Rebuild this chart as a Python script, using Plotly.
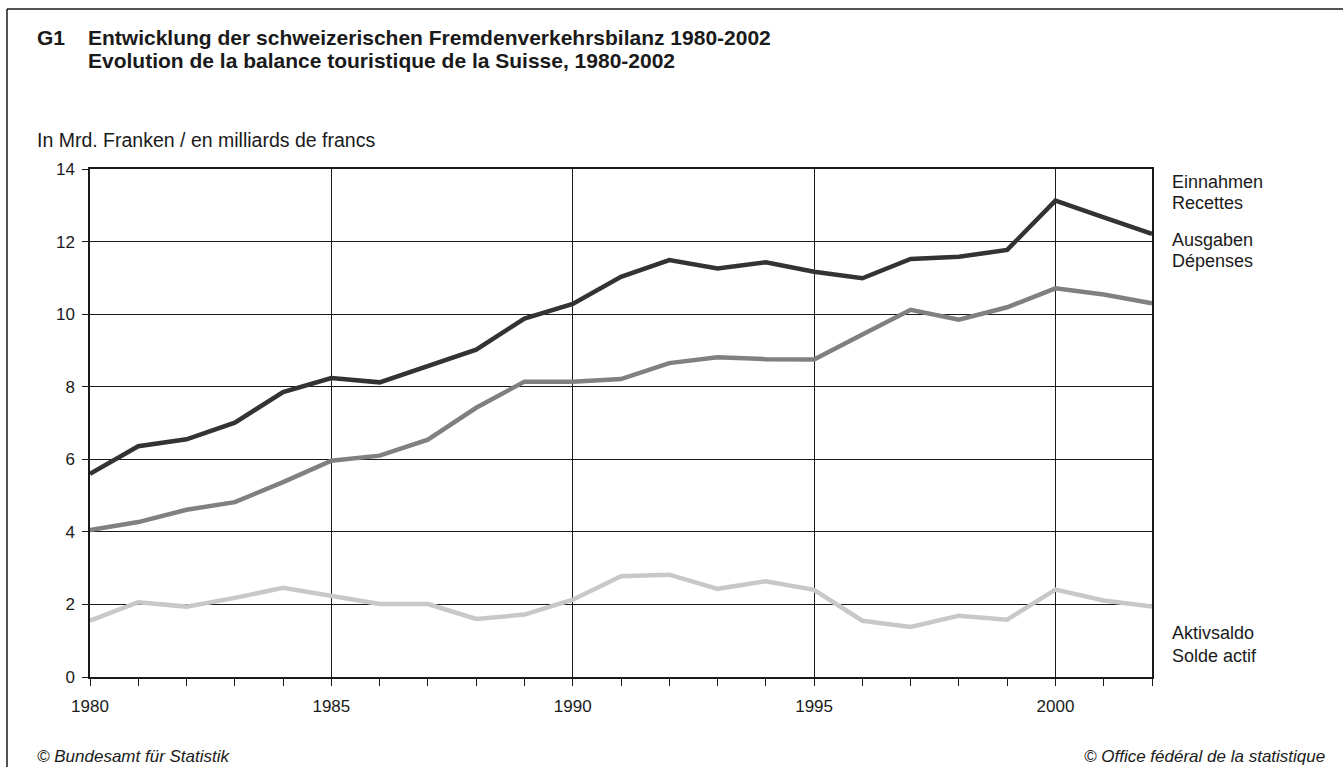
import plotly.graph_objects as go

years = list(range(1980, 2003))
einnahmen = [5.60, 6.36, 6.55, 7.01, 7.85, 8.24, 8.12, 8.56, 9.02, 9.88, 10.28,
             11.03, 11.49, 11.26, 11.43, 11.17, 10.99, 11.52, 11.58, 11.77, 13.13, 12.67, 12.21]
ausgaben = [4.05, 4.27, 4.61, 4.82, 5.37, 5.96, 6.10, 6.54, 7.42, 8.14, 8.14,
            8.21, 8.65, 8.81, 8.76, 8.75, 9.44, 10.12, 9.85, 10.19, 10.71, 10.54, 10.30]
aktivsaldo = [1.55, 2.06, 1.94, 2.18, 2.46, 2.25, 2.01, 2.01, 1.60, 1.72, 2.13,
              2.78, 2.82, 2.43, 2.64, 2.40, 1.55, 1.38, 1.69, 1.58, 2.41, 2.11, 1.94]
x_ticks = [1980, 1985, 1990, 1995, 2000]
y_ticks = [0, 2, 4, 6, 8, 10, 12, 14]

FONT = "Liberation Sans, Arial, sans-serif"
INK = "#1a1a1a"

fig = go.Figure()
fig.add_trace(go.Scatter(x=years, y=aktivsaldo, mode="lines",
                         line=dict(color="#c8c8c8", width=4.5), name="Aktivsaldo"))
fig.add_trace(go.Scatter(x=years, y=ausgaben, mode="lines",
                         line=dict(color="#808080", width=4.5), name="Ausgaben"))
fig.add_trace(go.Scatter(x=years, y=einnahmen, mode="lines",
                         line=dict(color="#333333", width=4.5), name="Einnahmen"))

L, R, T, B = 90, 191, 169, 90
W, H = 1343, 767
pw, ph = W - L - R, H - T - B

def px(x):
    return (x - L) / pw

def py(y):
    return (H - B - y) / ph

annotations = []
def txt(text, x, y, size, xanchor="left", yanchor="middle", bold=False, italic=False):
    t = text
    if bold:
        t = "<b>" + t + "</b>"
    if italic:
        t = "<i>" + t + "</i>"
    annotations.append(dict(text=t, x=px(x), y=py(y), xref="paper", yref="paper",
                            xanchor=xanchor, yanchor=yanchor, showarrow=False,
                            font=dict(family=FONT, size=size, color=INK)))

txt("G1", 35, 37, 21, bold=True)
txt("Entwicklung der schweizerischen Fremdenverkehrsbilanz 1980-2002", 86, 37, 21, bold=True)
txt("Evolution de la balance touristique de la Suisse, 1980-2002", 86, 61, 21, bold=True)
txt("In Mrd. Franken / en milliards de francs", 35, 140, 19.5)
txt("Einnahmen", 1170, 182, 18)
txt("Recettes", 1170, 203, 18)
txt("Ausgaben", 1170, 240, 18)
txt("Dépenses", 1170, 261, 18)
txt("Aktivsaldo", 1170, 633, 18)
txt("Solde actif", 1170, 656, 18)
txt("© Bundesamt für Statistik", 35, 756, 17, italic=True)
txt("© Office fédéral de la statistique", 1327, 756, 17, xanchor="right", italic=True)

shapes = [
    dict(type="line", xref="paper", yref="paper", x0=px(7), x1=px(1343), y0=py(9), y1=py(9),
         line=dict(color=INK, width=1.5)),
    dict(type="line", xref="paper", yref="paper", x0=px(7), x1=px(7), y0=py(9), y1=py(767),
         line=dict(color=INK, width=1.5)),
]

fig.update_layout(
    width=W, height=H,
    margin=dict(l=L, r=R, t=T, b=B, pad=0),
    paper_bgcolor="white", plot_bgcolor="white",
    showlegend=False,
    annotations=annotations,
    shapes=shapes,
    font=dict(family=FONT, size=17, color=INK),
    xaxis=dict(range=[1980, 2002], tickmode="array", tickvals=x_ticks,
               ticktext=[str(v) for v in x_ticks],
               showgrid=True, gridcolor=INK, gridwidth=1,
               showline=True, linecolor=INK, linewidth=1.5, mirror=True,
               ticks="outside", ticklen=7, tickcolor=INK,
               minor=dict(dtick=1, tick0=1980, ticks="outside", ticklen=7,
                          tickcolor=INK, showgrid=False),
               zeroline=False, tickfont=dict(size=17), ticklabelstandoff=6),
    yaxis=dict(range=[0, 14], tickmode="array", tickvals=y_ticks,
               showgrid=True, gridcolor=INK, gridwidth=1,
               showline=True, linecolor=INK, linewidth=1.5, mirror=True,
               ticks="outside", ticklen=6, tickcolor=INK,
               zeroline=False, tickfont=dict(size=17), ticklabelstandoff=4),
)

fig.write_html("out.html", config={"displayModeBar": False},
               post_script="document.body.style.margin='0';")
